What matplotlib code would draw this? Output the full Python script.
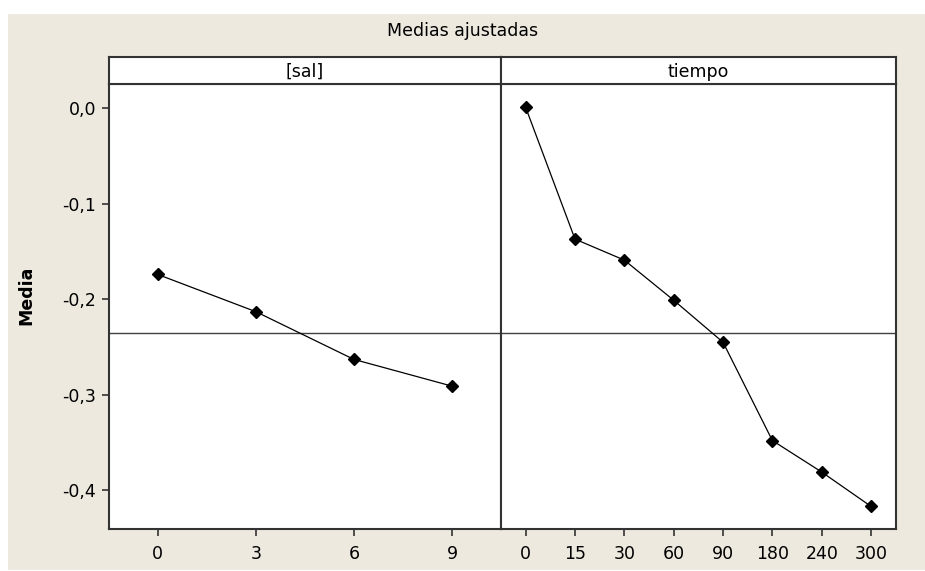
import numpy as np
import matplotlib
matplotlib.use('Agg')
import matplotlib.pyplot as plt
from matplotlib.patches import Rectangle

# data (fitted means)
sal_levels = ['0', '3', '6', '9']
sal_means = [-0.174, -0.213, -0.263, -0.291]
tiempo_levels = ['0', '15', '30', '60', '90', '180', '240', '300']
tiempo_means = [0.001, -0.137, -0.159, -0.201, -0.245, -0.348, -0.381, -0.417]
grand_mean = np.mean(sal_means)

y_ticks = [0.0, -0.1, -0.2, -0.3, -0.4]

plt.rcParams['font.family'] = 'DejaVu Sans'
FS = 12.5
W, H = 925, 571
fig = plt.figure(figsize=(W / 100, H / 100), dpi=100, facecolor='white')

# beige background panel
fig.patches.append(Rectangle((8 / W, 1 / H), 917 / W, 556 / H, transform=fig.transFigure,
                             facecolor='#EDE9DF', edgecolor='none', zorder=-1))

bot = 1 - 529.3 / H
hgt = (529.3 - 84.3) / H
x_left, x_mid, x_right = 108.7 / W, 501 / W, 895.7 / W

ax1 = fig.add_axes([x_left, bot, x_mid - x_left, hgt])
ax2 = fig.add_axes([x_mid, bot, x_right - x_mid, hgt])

ymin, ymax = -0.441, 0.0252
panels = [(ax1, sal_levels, sal_means, '[sal]'), (ax2, tiempo_levels, tiempo_means, 'tiempo')]
for ax, levels, means, name in panels:
    xs = np.arange(len(levels))
    ax.plot(xs, means, color='black', lw=0.9, marker='D', ms=6.5, mfc='black', mec='black', zorder=3)
    ax.axhline(grand_mean, color='#404040', lw=1.0, zorder=2)
    ax.set_xlim(-0.5, len(levels) - 0.5)
    ax.set_ylim(ymin, ymax)
    ax.set_xticks(xs)
    ax.set_xticklabels(levels)
    ax.set_facecolor('white')
    for sp in ax.spines.values():
        sp.set_linewidth(1.5)
        sp.set_color('#333333')
    ax.tick_params(axis='x', length=5, width=1.2, color='#333333', pad=6, labelsize=FS)

    # header strip
    hx = ax.get_position()
    hax = fig.add_axes([hx.x0, 1 - 84.3 / H, hx.width, 27 / H])
    hax.set_xticks([])
    hax.set_yticks([])
    for sp in hax.spines.values():
        sp.set_linewidth(1.5)
        sp.set_color('#333333')
    hax.text(0.5, 0.45, name, ha='center', va='center', fontsize=FS, transform=hax.transAxes)

ax1.set_yticks(y_ticks)
ax1.set_yticklabels([f'{v:.1f}'.replace('.', ',') for v in y_ticks])
ax1.tick_params(axis='y', length=5, width=1.2, color='#333333', pad=4, labelsize=FS)
ax2.set_yticks([])

fig.text(463 / W, 1 - 30.5 / H, 'Medias ajustadas', ha='center', va='center', fontsize=FS)
fig.text(26 / W, 1 - 295 / H, 'Media', ha='center', va='center', rotation=90,
         fontsize=FS, fontweight='bold')

fig.savefig('out.png', dpi=100, facecolor='white')
